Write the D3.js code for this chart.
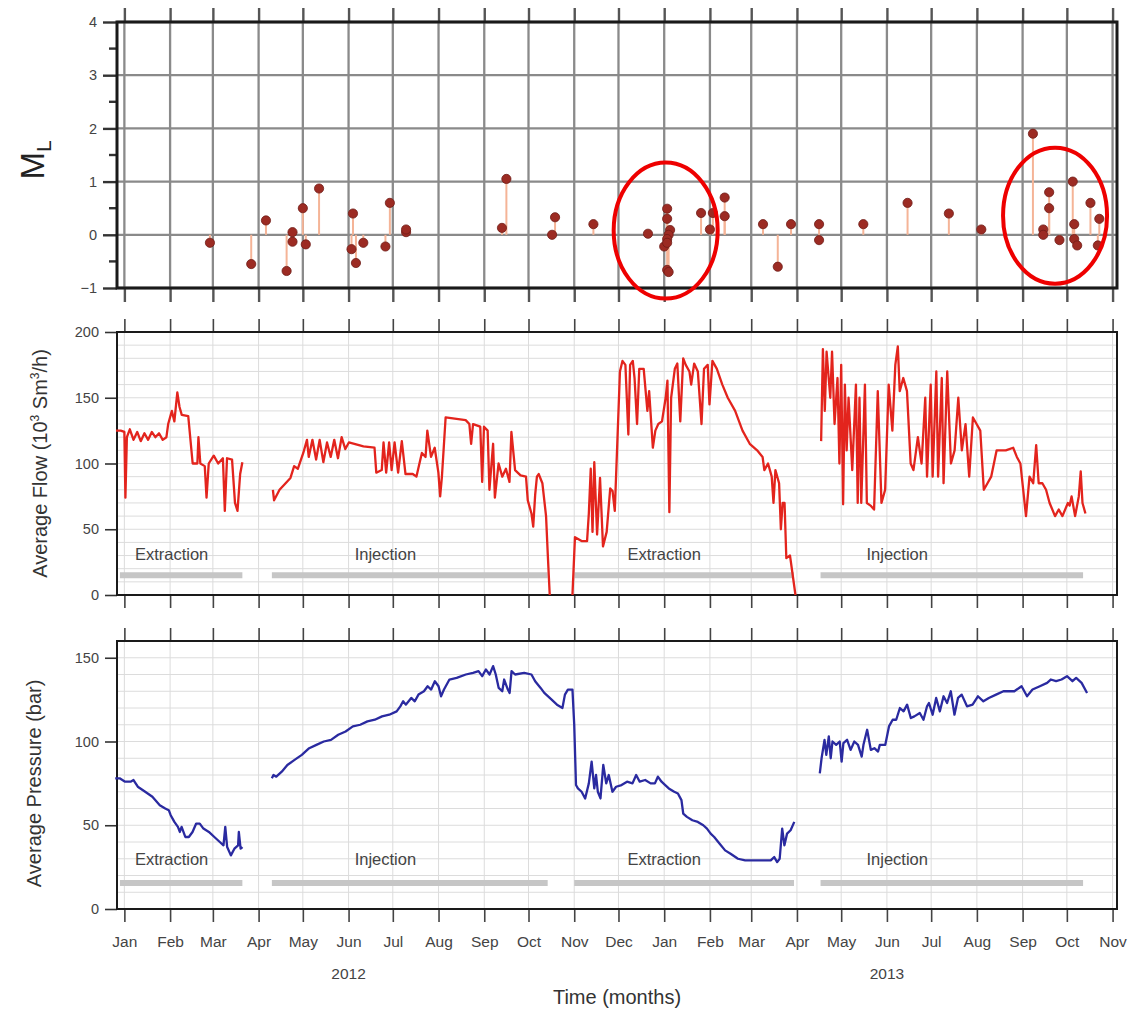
<!DOCTYPE html>
<html><head><meta charset="utf-8">
<script src="https://cdn.jsdelivr.net/npm/d3@7"></script>
<style>body{margin:0;background:#fff}</style>
</head><body>
<svg id="c" width="1130" height="1011"></svg>
<script>
// ---------------- DATA ----------------
// Local magnitude events
const mlDates = ["2012-02-28","2012-03-27","2012-04-06","2012-04-20","2012-04-24","2012-04-24","2012-05-01","2012-05-03","2012-05-12",
 "2012-06-04","2012-06-03","2012-06-06","2012-06-11","2012-06-26","2012-06-29","2012-07-10","2012-07-10",
 "2012-09-13","2012-09-16","2012-10-17","2012-10-19","2012-11-14","2012-12-21",
 "2013-01-03","2013-01-03","2013-01-05","2013-01-04","2013-01-03","2013-01-01","2013-01-03","2013-01-03","2013-01-04",
 "2013-01-26","2013-02-01","2013-02-03","2013-02-11","2013-02-11","2013-03-09","2013-03-19","2013-03-28",
 "2013-04-16","2013-04-16","2013-05-16","2013-06-15","2013-07-13","2013-08-04",
 "2013-09-08","2013-09-15","2013-09-15","2013-09-19","2013-09-19","2013-09-26","2013-10-05","2013-10-06","2013-10-06","2013-10-08",
 "2013-10-17","2013-10-23","2013-10-22"];
const mlValues = [-0.15,-0.55,0.27,-0.68,0.05,-0.13,0.5,-0.18,0.87,
 0.4,-0.27,-0.53,-0.15,-0.22,0.6,0.05,0.1,
 0.13,1.05,0.0,0.33,0.2,0.02,
 0.49,0.3,0.09,0.0,-0.08,-0.22,-0.15,-0.66,-0.7,
 0.41,0.1,0.41,0.7,0.35,0.2,-0.6,0.2,
 0.2,-0.1,0.2,0.6,0.4,0.1,
 1.9,0.1,0.0,0.8,0.5,-0.1,1.0,0.2,-0.08,-0.2,
 0.6,0.3,-0.2];

// Average flow, [days since 2012-01-01, 10^3 Sm3/h]
const flowExtraction2012 = [[-5.7,125],[-2.5,125],[0,124],[0.7,74],[1.7,120],[3.7,126],[6.2,118],[8.7,124],[11.1,117],[13.6,123],[16.1,118],[18.6,124],[21,120],[23.5,123],[26,118],[28.5,120],[29.7,130],[32.2,140],[33.9,132],[35.9,154],[37.4,143],[38.9,137],[43.3,136],[46.3,100],[49.5,100],[50.2,120],[51.5,100],[54.5,98],[55.7,74],[57.2,100],[60.6,106],[63.6,100],[66.8,104],[68.1,64],[69.6,104],[73,103],[75,70],[76.7,64],[78.5,92],[80,101]];
const flowInjection2012 = [[100.7,80],[101.5,72],[105.2,80],[110.1,86],[112.6,89],[115.1,98],[117.6,96],[121.3,108],[123.8,118],[125,105],[127.5,118],[130,103],[132.4,118],[134.9,101],[137.4,116],[139.9,105],[142.3,118],[144.8,104],[147.3,120],[149.8,111],[152.2,116],[162.1,113],[169.6,112],[170.8,93],[174.5,95],[175.7,116],[177.5,93],[179.5,116],[181.2,95],[183.2,116],[185.6,93],[188.1,117],[190.6,92],[195.5,92],[198,90],[201.7,108],[204.2,105],[205.4,125],[207.9,105],[210.4,112],[212.9,93],[214.1,75],[215.3,90],[217.8,135],[231.4,133],[233.9,130],[235.1,115],[236.4,130],[241.3,128],[242.6,86],[243.8,128],[246.3,125],[247.5,80],[250,115],[251.2,74],[253.7,100],[256.2,90],[258.7,96],[261.1,86],[262.4,124],[264.9,95],[268.6,91],[272.3,90],[273.5,72],[276,62],[277.2,52],[278.5,76],[279.7,90],[280.9,92],[283.4,85],[285.9,60],[287.1,30],[288.4,0]];
const flowExtraction2013 = [[303.8,0],[305.5,44],[310,41],[313.7,41],[314.9,62],[316.2,96],[317.4,48],[318.6,101],[320.5,46],[322.5,89],[324.5,37],[327,48],[329.4,81],[331,79],[332.5,64],[336,170],[337.7,178],[339.7,175],[341.7,122],[342.9,175],[344.7,178],[345.9,165],[347.6,130],[349.1,172],[352.1,172],[354.6,140],[355.8,155],[358.3,112],[360,125],[362,130],[364.5,132],[367,150],[368.2,163],[369.5,63],[370.7,150],[373.2,172],[374.9,176],[376.9,132],[378.9,180],[380.6,175],[383.1,170],[384.3,160],[386.3,176],[388.8,170],[391.3,130],[393,172],[395.5,175],[396.7,145],[398.7,178],[401.7,172],[405.4,160],[409.1,150],[414.1,140],[419.1,125],[424,115],[429,110],[432.7,105],[433.9,95],[436.4,100],[438.9,90],[440.1,70],[441.4,95],[443.9,85],[445.1,50],[446.3,70],[447.6,70],[448.8,28],[451.3,30],[455,0]];
const flowInjection2013 = [[472.4,117],[473.6,187],[474.9,140],[476.1,185],[478.6,150],[479.8,185],[481.5,130],[483.5,165],[484.8,100],[486,175],[487.3,69],[488.5,160],[489.7,110],[491,150],[493.5,95],[496,160],[497.2,70],[498.4,150],[499.6,70],[502.1,160],[503.4,70],[505.9,68],[508.3,65],[510.8,155],[513.3,70],[515.8,80],[518.2,160],[520.7,125],[522.7,175],[524.4,189],[525.7,155],[528.1,165],[530.6,155],[533.1,100],[535,95],[538,120],[540.5,100],[543,150],[544.2,90],[546.7,160],[548,90],[550.5,170],[551.7,90],[554.2,165],[555.4,85],[557.9,170],[560.4,100],[562.9,110],[565.4,150],[567.8,110],[570.3,130],[572.8,90],[575.3,135],[577.8,130],[580.3,125],[582.7,80],[585.2,85],[587.7,90],[591.4,110],[597.6,110],[602.6,112],[605.1,105],[607.5,100],[611.3,60],[613.7,90],[616.2,85],[618.2,114],[619.9,85],[622.4,85],[624.9,80],[627.3,70],[631,60],[633.5,65],[636,60],[639.7,70],[640.9,68],[642.2,75],[644.6,60],[647.1,75],[648.4,94],[649.6,70],[651.6,62]];

// Average pressure, [days since 2012-01-01, bar]
const pressureExtraction2012 = [[-6.2,78],[-3.2,78],[0.5,76],[4.2,76],[6.2,77],[9.1,73],[14.1,70],[19,67],[24,62],[27.7,60],[30.1,59],[31.4,56],[33.9,52],[36.3,49],[37.6,46],[38.8,49],[41.3,43],[43.7,43],[46.2,46],[48.7,51],[51.1,51],[53.6,48],[57.3,46],[61,43],[64.7,40],[67.2,38],[68.4,49],[69.7,37],[72.2,32],[74.6,36],[77.1,38],[77.6,46],[78.8,36],[80.1,37]];
const pressureInjection2012 = [[100,78],[101.1,80],[103,79],[106.7,82],[110.5,86],[115.4,89],[120.3,92],[125.3,96],[130.2,98],[135.2,100],[140.1,101],[145,104],[150,106],[154.9,109],[159.9,110],[164.8,112],[169.8,113],[174.7,115],[179.6,116],[184.6,118],[187.1,121],[189,124],[190.8,122],[194.5,126],[196.9,124],[199.4,128],[203.1,130],[205.6,133],[208,131],[210.5,136],[213,133],[214.7,127],[216.7,131],[220.4,137],[225.3,138],[231.5,140],[236.4,141],[240.1,142],[242.6,139],[245.1,143],[247.6,140],[250,145],[251.8,140],[253.8,132],[256.2,130],[257.5,137],[260,131],[261.2,129],[262.5,142],[264.9,140],[271.1,141],[276,140],[278.5,136],[282.2,132],[284.7,129],[288.4,126],[293.3,122],[297,120],[298.7,128],[300.7,131],[303.8,131]];
const pressureExtraction2013 = [[305,110],[306.2,74],[307.5,72],[310,70],[312.4,66],[314.9,75],[316.8,88],[318.6,72],[319.8,80],[321,70],[322.8,66],[324.7,86],[326.7,75],[328.4,80],[330.9,70],[333.4,73],[337.1,74],[340.8,76],[344.5,75],[347,80],[349.4,76],[353.1,77],[356.8,75],[359.7,75],[361.7,79],[364.2,76],[366.7,74],[369.1,72],[372.8,70],[375.3,69],[377.7,65],[378.9,57],[381.4,55],[385.1,53],[388.8,52],[392.5,50],[395,48],[397.5,45],[399.9,43],[403.6,39],[407.3,35],[411,33],[416,30],[420.9,29],[428.3,29],[433.2,29],[438.2,29],[440.6,31],[442.6,28],[444.3,30],[446,48],[447.5,38],[449.3,45],[451.7,47],[454.2,52]];
const pressureInjection2013 = [[471.5,81],[472.7,90],[474.7,101],[475.9,92],[477.6,103],[478.9,90],[480.1,100],[482.6,98],[485,100],[486.3,88],[487.5,99],[490,101],[492.4,95],[494.9,100],[497.4,98],[499.9,91],[501.1,98],[503.6,107],[506.1,95],[508.5,96],[511,94],[512.2,98],[515.9,98],[518.4,109],[520.9,113],[523.3,113],[525.8,120],[528.3,118],[530.7,122],[533.2,114],[535.6,115],[539.3,117],[541.8,113],[544.2,121],[545.5,123],[548,116],[550.4,126],[552.9,118],[555.4,127],[557.8,123],[560.3,130],[562.8,116],[565.2,126],[567.7,128],[571.3,121],[575.1,122],[578.7,127],[582.4,124],[586.1,126],[591,128],[596,130],[603.4,130],[608.3,133],[612,127],[615.7,131],[620.7,133],[625.6,135],[628.1,137],[631.7,136],[635.4,137],[639.1,139],[642.8,136],[645.3,138],[649,135],[652.7,129]];

// Operating phases
const phaseNames = ["Extraction","Injection","Extraction","Injection"];
const phaseStart = ["2011-12-29","2012-04-10","2012-11-01","2013-04-17"];
const phaseEnd   = ["2012-03-21","2012-10-14","2013-03-30","2013-10-12"];
const phaseLabelAt = ["2012-02-02","2012-06-26","2013-01-01","2013-06-08"];

// Year labels under the month axis
const yearNames = ["2012","2013"];
const yearAt = ["2012-06-01","2013-06-01"];

// Highlighted clusters (red ellipses) in the M_L panel
const highlightAt = ["2013-01-02","2013-09-23"];
const highlightML = [0.08, 0.36];

// ---------------- DRAWING ----------------
const svg = d3.select("#c");
const parse = d3.utcParse("%Y-%m-%d");
const base = Date.UTC(2012,0,1);
const dayToDate = d => new Date(base + d*864e5);
const tickFont = "'Liberation Sans Narrow','Arial Narrow','Liberation Sans',Arial,sans-serif";
const titleFont = "'Liberation Sans',Arial,Helvetica,sans-serif";

const x = d3.scaleUtc()
  .domain([new Date(Date.UTC(2011,11,27)), new Date(Date.UTC(2013,10,4))])
  .range([117, 1117]);
const months = x.ticks(d3.utcMonth.every(1));

const yML = d3.scaleLinear().domain([-1,4]).range([288,22]);
const yFlow = d3.scaleLinear().domain([0,200]).range([595,332]);
const yPres = d3.scaleLinear().domain([0,160]).range([909,641]);

function drawPanel(y, opt) {
  const g = svg.append("g");
  const [x0,x1] = x.range();
  const [yb,yt] = y.range();
  g.append("g").selectAll("line").data(opt.hGrid).join("line")
    .attr("x1",x0).attr("x2",x1).attr("y1",d=>y(d)).attr("y2",d=>y(d))
    .attr("stroke",opt.gridColor).attr("stroke-width",opt.gridWidth);
  g.append("g").selectAll("line").data(months).join("line")
    .attr("x1",d=>x(d)).attr("x2",d=>x(d)).attr("y1",yt).attr("y2",yb)
    .attr("stroke",opt.gridColor).attr("stroke-width",opt.gridWidth);
  const top = g.append("g").attr("transform",`translate(0,${yt})`)
    .call(d3.axisTop(x).tickValues(months).tickSize(opt.tickLen).tickFormat(""));
  const bot = g.append("g").attr("transform",`translate(0,${yb})`)
    .call(d3.axisBottom(x).tickValues(months).tickSize(opt.tickLen)
      .tickPadding(14).tickFormat(opt.monthLabels ? d3.utcFormat("%b") : ""));
  [top,bot].forEach(a=>{
    a.select(".domain").remove();
    a.selectAll(".tick line").attr("stroke",opt.tickColor).attr("stroke-width",opt.tickWidth);
    a.selectAll("text").attr("font-family",tickFont).attr("font-size",15.5).attr("fill","#444");
  });
  const left = g.append("g").attr("transform",`translate(${x0},0)`)
    .call(d3.axisLeft(y).tickValues(opt.yTicks).tickSize(opt.yTickLen).tickPadding(6)
      .tickFormat(d=> d<0 ? "\u22121" : d3.format("d")(d)));
  left.select(".domain").remove();
  left.selectAll(".tick line").attr("stroke","#333").attr("stroke-width",opt.tickWidth);
  left.selectAll("text").attr("font-family",tickFont).attr("font-size",14.5).attr("fill","#444");
  if (opt.minor) {
    g.append("g").selectAll("line").data(opt.minor).join("line")
      .attr("x1",x0-8).attr("x2",x0).attr("y1",d=>y(d)).attr("y2",d=>y(d))
      .attr("stroke","#333").attr("stroke-width",opt.tickWidth);
  }
  g.append("rect").attr("x",x0).attr("y",yt).attr("width",x1-x0).attr("height",yb-yt)
    .attr("fill","none").attr("stroke","#1a1a1a").attr("stroke-width",opt.frameWidth);
  return g;
}

// ---- Panel 1: M_L ----
drawPanel(yML, {hGrid:d3.range(-1,5), gridColor:"#8a8a8a", gridWidth:2.3, tickLen:14, tickColor:"#555",
  tickWidth:2.4, yTicks:d3.range(-1,5), yTickLen:14, minor:[-0.5,0.5,1.5,2.5,3.5], frameWidth:3});

const ml = mlDates.map((d,i)=>({date:parse(d), v:mlValues[i]}));
const pg = svg.append("g");
pg.selectAll("line.stem").data(ml).join("line").attr("class","stem")
  .attr("x1",d=>x(d.date)).attr("x2",d=>x(d.date)).attr("y1",yML(0)).attr("y2",d=>yML(d.v))
  .attr("stroke","#f5b497").attr("stroke-width",2);
pg.selectAll("circle").data(ml).join("circle")
  .attr("cx",d=>x(d.date)).attr("cy",d=>yML(d.v)).attr("r",4.6)
  .attr("fill","#9c2b23").attr("stroke","#6e1c16").attr("stroke-width",0.8);

svg.append("g").selectAll("ellipse").data(highlightAt).join("ellipse")
  .attr("cx",d=>x(parse(d))).attr("cy",(d,i)=>yML(highlightML[i])).attr("rx",52).attr("ry",68)
  .attr("fill","none").attr("stroke","#ee0000").attr("stroke-width",4);

const mlLabel = svg.append("text").attr("transform","translate(44,160) rotate(-90)")
  .attr("text-anchor","middle").attr("font-family",titleFont).attr("fill","#222");
mlLabel.append("tspan").attr("font-size",33).text("M");
mlLabel.append("tspan").attr("font-size",21).attr("dy",7).text("L");

// ---- Panel 2: Flow ----
drawPanel(yFlow, {hGrid:d3.range(0,201,10), gridColor:"#dcdcdc", gridWidth:1, tickLen:13, tickColor:"#444",
  tickWidth:1.6, yTicks:[0,50,100,150,200], yTickLen:12, frameWidth:2});

// ---- Panel 3: Pressure ----
drawPanel(yPres, {hGrid:d3.range(0,161,10), gridColor:"#dcdcdc", gridWidth:1, tickLen:13, tickColor:"#444",
  tickWidth:1.6, yTicks:[0,50,100,150], yTickLen:12, frameWidth:2, monthLabels:true});

function drawPhases(y, barV, textV) {
  const g = svg.append("g");
  g.selectAll("line").data(phaseNames).join("line")
    .attr("x1",(d,i)=>x(parse(phaseStart[i]))).attr("x2",(d,i)=>x(parse(phaseEnd[i])))
    .attr("y1",y(barV)).attr("y2",y(barV)).attr("stroke","#c6c6c6").attr("stroke-width",6);
  g.selectAll("text").data(phaseNames).join("text")
    .attr("x",(d,i)=>x(parse(phaseLabelAt[i]))).attr("y",y(textV)).attr("dy","0.35em")
    .attr("text-anchor","middle").attr("font-family",titleFont).attr("font-size",16.5).attr("fill","#444")
    .text(d=>d);
}
drawPhases(yFlow, 15, 31);
drawPhases(yPres, 15.5, 29.5);

function drawSeries(y, segs, color) {
  const line = d3.line().x(d=>x(dayToDate(d[0]))).y(d=>y(d[1]));
  svg.append("g").selectAll("path").data(segs).join("path")
    .attr("d",line).attr("fill","none").attr("stroke",color).attr("stroke-width",2.3)
    .attr("stroke-linejoin","round");
}
drawSeries(yFlow, [flowExtraction2012, flowInjection2012, flowExtraction2013, flowInjection2013], "#e3241d");
drawSeries(yPres, [pressureExtraction2012, pressureInjection2012.concat(pressureExtraction2013), pressureInjection2013], "#2a2aa0");

svg.append("text").attr("transform",`translate(47,${(yFlow(0)+yFlow(200))/2}) rotate(-90)`)
  .attr("text-anchor","middle").attr("font-family",titleFont).attr("font-size",20).attr("fill","#333")
  .call(t=>{
    t.append("tspan").text("Average Flow (10");
    t.append("tspan").attr("font-size",12).attr("dy",-8).text("3");
    t.append("tspan").attr("dy",8).text(" Sm");
    t.append("tspan").attr("font-size",12).attr("dy",-8).text("3");
    t.append("tspan").attr("dy",8).text("/h)");
  });
svg.append("text").attr("transform",`translate(41,${(yPres(0)+yPres(150))/2}) rotate(-90)`)
  .attr("text-anchor","middle").attr("font-family",titleFont).attr("font-size",20).attr("fill","#333")
  .text("Average Pressure (bar)");

svg.append("g").selectAll("text").data(yearNames).join("text")
  .attr("x",(d,i)=>x(parse(yearAt[i]))).attr("y",979).attr("text-anchor","middle")
  .attr("font-family",tickFont).attr("font-size",15.5).attr("fill","#444").text(d=>d);

svg.append("text").attr("x",617).attr("y",1004).attr("text-anchor","middle")
  .attr("font-family",titleFont).attr("font-size",20).attr("fill","#333").text("Time (months)");
</script>
</body></html>
